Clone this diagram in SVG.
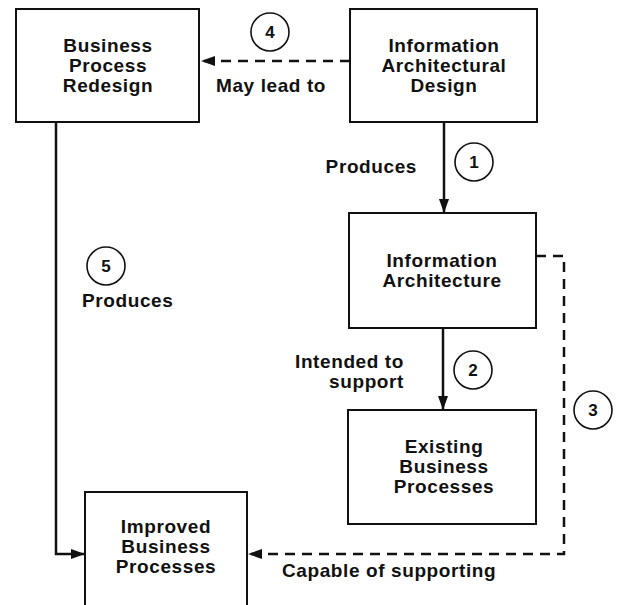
<svg xmlns="http://www.w3.org/2000/svg" width="621" height="605" viewBox="0 0 621 605">
<style>
.box{fill:#fff;stroke:#111;stroke-width:2}
.t{font-family:"Liberation Sans",Arial,sans-serif;font-weight:bold;font-size:19px;letter-spacing:0.6px;fill:#111}
.c{text-anchor:middle}
.e{text-anchor:end}
.num{font-family:"Liberation Sans",Arial,sans-serif;font-weight:bold;font-size:17px;fill:#111;text-anchor:middle}
.circ{fill:none;stroke:#111;stroke-width:1.6}
.solid{fill:none;stroke:#111;stroke-width:2.5}
.dash{fill:none;stroke:#111;stroke-width:2.5;stroke-dasharray:10 7}
</style>
<defs>
<marker id="ah" markerWidth="14" markerHeight="10" refX="13" refY="5" orient="auto" markerUnits="userSpaceOnUse">
<path d="M0,0 L14,5 L0,10 Z" fill="#111"/>
</marker>
</defs>
<rect width="621" height="605" fill="#fff"/>
<g id="connectors">
<path class="dash" d="M350,61 L202,61" marker-end="url(#ah)"/>
<path class="solid" d="M444,122 L444,212" marker-end="url(#ah)"/>
<path class="solid" d="M443,328 L443,409" marker-end="url(#ah)"/>
<path class="dash" d="M536,256 L564,256 L564,554 L249,554" marker-end="url(#ah)"/>
<path class="solid" d="M56,122 L56,554 L84,554" marker-end="url(#ah)"/>
</g>
<g id="labels">
<circle class="circ" cx="270" cy="32" r="19"/><text class="num" x="270" y="38">4</text>
<text class="t" x="216" y="92">May lead to</text>
<circle class="circ" cx="474" cy="162" r="19"/><text class="num" x="474" y="168">1</text>
<text class="t e" x="417" y="173">Produces</text>
<circle class="circ" cx="473" cy="370" r="19"/><text class="num" x="473" y="376">2</text>
<text class="t e" x="404" y="368">Intended to</text>
<text class="t e" x="404" y="388">support</text>
<circle class="circ" cx="593" cy="410" r="19"/><text class="num" x="593" y="416">3</text>
<circle class="circ" cx="106" cy="266" r="19"/><text class="num" x="106" y="272">5</text>
<text class="t" x="82" y="307">Produces</text>
<text class="t" x="282" y="577">Capable of supporting</text>
</g>
<g id="n-bpr">
<rect class="box" x="16" y="9" width="183" height="113"/>
<text class="t c" x="108" y="52">Business</text>
<text class="t c" x="108" y="72">Process</text>
<text class="t c" x="108" y="92">Redesign</text>
</g>
<g id="n-iad">
<rect class="box" x="350" y="9" width="187" height="113"/>
<text class="t c" x="444" y="52">Information</text>
<text class="t c" x="444" y="72">Architectural</text>
<text class="t c" x="444" y="92">Design</text>
</g>
<g id="n-ia">
<rect class="box" x="349" y="213" width="187" height="115"/>
<text class="t c" x="442" y="267">Information</text>
<text class="t c" x="442" y="287">Architecture</text>
</g>
<g id="n-ebp">
<rect class="box" x="348" y="410" width="188" height="114"/>
<text class="t c" x="444" y="453">Existing</text>
<text class="t c" x="444" y="473">Business</text>
<text class="t c" x="444" y="493">Processes</text>
</g>
<g id="n-ibp">
<rect class="box" x="85" y="492" width="162" height="130"/>
<text class="t c" x="166" y="533">Improved</text>
<text class="t c" x="166" y="553">Business</text>
<text class="t c" x="166" y="573">Processes</text>
</g>
</svg>
